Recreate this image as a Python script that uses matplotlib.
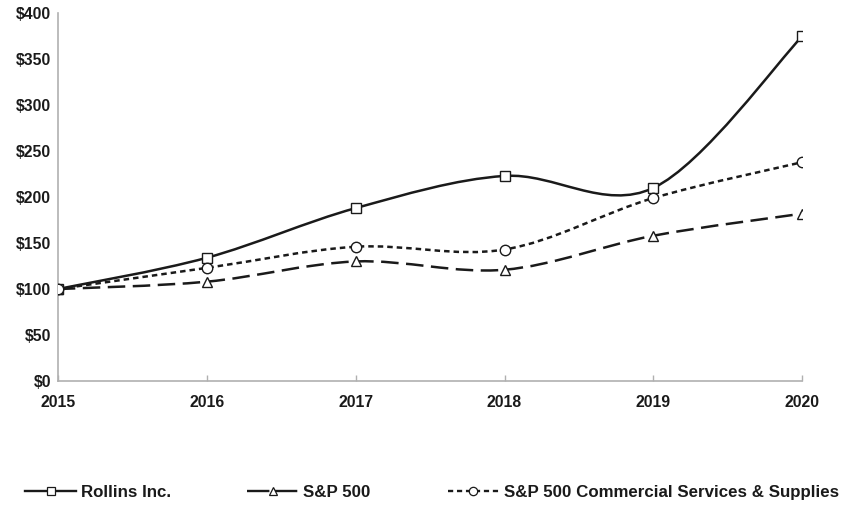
import numpy as np
import matplotlib
matplotlib.use("Agg")
import matplotlib.pyplot as plt
from matplotlib.path import Path
from matplotlib.patches import PathPatch
from matplotlib.lines import Line2D
from matplotlib.ticker import FuncFormatter

plt.rcParams['font.family'] = ['Liberation Sans', 'DejaVu Sans']

years = [2015, 2016, 2017, 2018, 2019, 2020]
rollins = [100, 134, 188, 223, 210, 375]
sp500 = [100, 108, 130, 121, 158, 182]
sp_comm = [100, 123, 146, 143, 199, 238]

series = [
    ("Rollins Inc.", rollins, "s", "-", "-"),
    ("S&P 500", sp500, "^", (0, (7, 3)), (0, (9.5, 2.3))),
    ("S&P 500 Commercial Services & Supplies", sp_comm, "o",
     (0, (2.2, 1.6)), (0, (2.2, 1.6))),
]

INK = "#1a1a1a"
GRAY = "#b0b0b0"


def smooth_path(xs, ys):
    # Excel-style smoothed line: cubic Bezier segments through each point
    pts = np.column_stack([xs, ys]).astype(float)
    ext = np.vstack([pts[0], pts, pts[-1]])
    verts = [pts[0]]
    codes = [Path.MOVETO]
    for i in range(1, len(ext) - 2):
        p0, p1, p2, p3 = ext[i - 1], ext[i], ext[i + 1], ext[i + 2]
        verts += [p1 + (p2 - p0) / 6, p2 - (p3 - p1) / 6, p2]
        codes += [Path.CURVE4] * 3
    return Path(verts, codes)


fig = plt.figure(figsize=(8.5, 5.05), dpi=100)
ax = fig.add_axes([0.068, 0.2455, 0.876, 0.7285])

handles = []
for name, vals, mk, ls, leg_ls in series:
    ax.add_patch(PathPatch(smooth_path(years, vals), fill=False,
                           edgecolor=INK, lw=1.8, linestyle=ls, zorder=2))
    ax.plot(years, vals, linestyle="none", marker=mk, markersize=7.5,
            markerfacecolor="white", markeredgecolor=INK, markeredgewidth=1.0,
            zorder=3)
    handles.append(Line2D([], [], color=INK, lw=1.7, linestyle=leg_ls,
                          marker=mk, markersize=6, markerfacecolor="white",
                          markeredgecolor=INK, markeredgewidth=0.9))

ax.set_xlim(2015, 2020)
ax.set_ylim(0, 400)
ax.set_xticks(years)
ax.set_yticks(range(0, 401, 50))
ax.yaxis.set_major_formatter(FuncFormatter(lambda v, p: f"${v:.0f}"))
for s in ["top", "right"]:
    ax.spines[s].set_visible(False)
for s in ["left", "bottom"]:
    ax.spines[s].set_color(GRAY)
    ax.spines[s].set_linewidth(1.2)
ax.tick_params(axis="both", color=GRAY, length=4, width=1, labelsize=11.3,
               labelcolor=INK)
ax.tick_params(axis="x", direction="in", pad=10)
ax.tick_params(axis="y", length=0, pad=5)
for lab in ax.get_xticklabels() + ax.get_yticklabels():
    lab.set_fontweight("bold")

# legend entries sit at uneven spacing along the bottom
legend_x = [0.012, 0.273, 0.509]
for h, (name, *_), x in zip(handles, series, legend_x):
    leg = fig.legend([h], [name], loc="center left",
                     bbox_to_anchor=(x, 0.025), frameon=False,
                     handlelength=3.0, handletextpad=0.3,
                     prop={"size": 12.2, "weight": "bold"})
    for t in leg.get_texts():
        t.set_color(INK)

fig.savefig("out.png", dpi=100, facecolor="white")
